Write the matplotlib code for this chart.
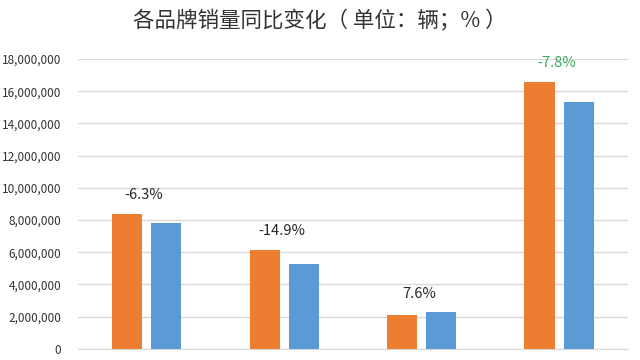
import numpy as np
import matplotlib.pyplot as plt
from matplotlib.ticker import FuncFormatter, MultipleLocator

plt.rcParams['font.family'] = ['Noto Sans CJK SC', 'DejaVu Sans']

title = "各品牌销量同比变化（ 单位：辆；% ）"
sales_prev = [8400000, 6170000, 2110000, 16600000]
sales_curr = [7840000, 5250000, 2280000, 15320000]
changes = ["-6.3%", "-14.9%", "7.6%", "-7.8%"]
change_colors = ["#262626", "#262626", "#262626", "#3aaa5f"]

fig = plt.figure(figsize=(6.4, 3.6), dpi=100)
ax = fig.add_axes([0.122, 0.031, 0.859, 0.805])

x = np.arange(len(sales_prev))
w = 0.22
off = 0.142
ax.bar(x - off, sales_prev, width=w, color="#ED7D31", zorder=3)
ax.bar(x + off, sales_curr, width=w, color="#5B9BD5", zorder=3)

for i, (lab, c) in enumerate(zip(changes, change_colors)):
    top = max(sales_prev[i], sales_curr[i])
    ax.annotate(lab, (x[i] - 0.02, top), xytext=(0, 8), textcoords="offset points",
                ha="center", va="bottom", fontsize=10.5, color=c)

ax.set_xlim(-0.5, len(sales_prev) - 0.5)
ax.set_ylim(0, 18000000)
ax.yaxis.set_major_locator(MultipleLocator(2000000))
ax.yaxis.set_major_formatter(FuncFormatter(lambda v, p: f"{int(v):,}"))
ax.grid(axis="y", color="#d9d9d9", linewidth=1, zorder=0)
ax.set_xticks([])
ax.tick_params(axis="y", length=0, pad=12, labelsize=8.5, labelcolor="#333333")
for s in ["top", "right", "left"]:
    ax.spines[s].set_visible(False)
ax.spines["bottom"].set_color("#d9d9d9")

fig.text(0.5, 0.94, title, ha="center", va="center", fontsize=15.5, color="#333333")

fig.savefig("out.png", dpi=100)
